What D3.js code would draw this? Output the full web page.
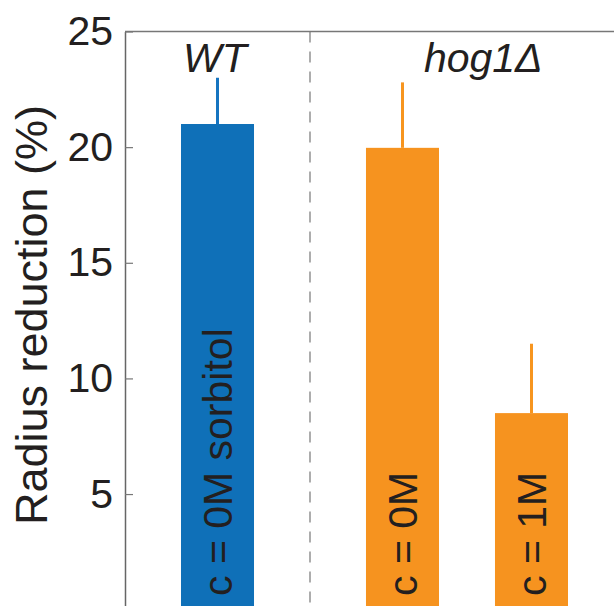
<!DOCTYPE html>
<html><head><meta charset="utf-8">
<script src="https://cdn.jsdelivr.net/npm/d3@7"></script>
<style>body{margin:0;background:#fff}svg{display:block}text{font-family:"Liberation Sans",Arial,Helvetica,sans-serif;fill:#231f20}</style>
</head><body>
<svg id="c" width="614" height="606"></svg>
<script>
// data
const labels = ["c = 0M sorbitol", "c = 0M", "c = 1M"];
const xPos = [1, 2.434, 3.434];
const values = [21.0, 19.97, 8.5];
const errTop = [23.0, 22.8, 11.5];
const colors = ["#0f70b8", "#f6931f", "#f6931f"];
const errColors = ["#1574c0", "#f7951f", "#f7951f"];
const groups = [{name:"WT", x:0.98}, {name:"hog1Δ", x:3.06}];
const separatorX = 1.717;
const yTicks = [5, 10, 15, 20, 25];

const svg = d3.select("#c");
const x = d3.scaleLinear().domain([1, 2]).range([217.5, 346.5]);
const y = d3.scaleLinear().domain([0, 25]).range([609.7, 31.5]);
const bw = x(1.566) - x(1);

// bars
svg.selectAll("rect.bar").data(values).join("rect")
  .attr("x", (d,i) => x(xPos[i]) - bw/2)
  .attr("y", d => y(d))
  .attr("width", bw)
  .attr("height", d => y(0) - y(d))
  .attr("fill", (d,i) => colors[i]);

// error bars
svg.selectAll("line.err").data(errTop).join("line")
  .attr("x1", (d,i) => x(xPos[i])).attr("x2", (d,i) => x(xPos[i]))
  .attr("y1", (d,i) => y(values[i])).attr("y2", d => y(d))
  .attr("stroke", (d,i) => errColors[i]).attr("stroke-width", 3);

// separator
svg.append("line")
  .attr("x1", x(separatorX)).attr("x2", x(separatorX))
  .attr("y1", y(25)).attr("y2", 606)
  .attr("stroke", "#8a8a8a").attr("stroke-width", 1.4)
  .attr("stroke-dasharray", "11,9");

// top border
svg.append("line")
  .attr("x1", 125).attr("x2", 614)
  .attr("y1", y(25)).attr("y2", y(25))
  .attr("stroke", "#777").attr("stroke-width", 1.5);

// y axis
const axis = svg.append("g").attr("transform", "translate(125,0)")
  .call(d3.axisLeft(y).tickValues(yTicks).tickSize(-8).tickPadding(12).tickSizeOuter(0));
axis.select(".domain").attr("stroke", "#666").attr("stroke-width", 1.5);
axis.selectAll(".tick line").attr("stroke", "#777").attr("stroke-width", 1.2);
axis.selectAll(".tick text").attr("font-size", 41).attr("fill", "#231f20")
  .attr("font-family", '"Liberation Sans",Arial,sans-serif');

// y label
svg.append("text")
  .attr("transform", "translate(47,315) rotate(-90)")
  .attr("text-anchor", "middle")
  .attr("font-size", 45)
  .text("Radius reduction (%)");

// in-bar labels
svg.selectAll("text.bl").data(labels).join("text")
  .attr("transform", (d,i) => `translate(${x(xPos[i])},596) rotate(-90)`)
  .attr("dy", "0.35em")
  .attr("text-anchor", "start")
  .attr("font-size", 41)
  .text(d => d);

// group labels
svg.selectAll("text.gl").data(groups).join("text")
  .attr("x", d => x(d.x)).attr("y", 72)
  .attr("text-anchor", "middle")
  .attr("font-size", 41)
  .attr("font-style", "italic")
  .text(d => d.name);
</script>
</body></html>
